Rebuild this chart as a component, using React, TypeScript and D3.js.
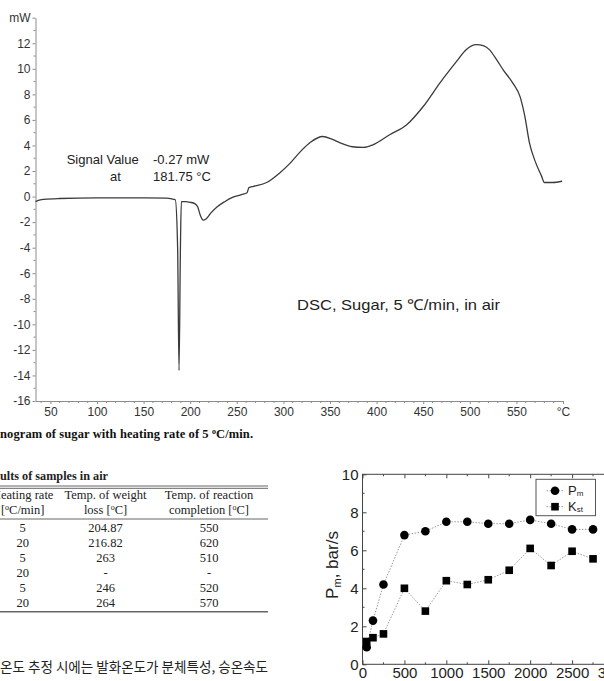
import { useEffect, useRef } from 'react';
import * as d3 from 'd3';

// DSC curve (temperature in °C, signal in mW)
const dscTemp = [34, 37, 43, 60, 100, 150, 175, 180, 184, 186.5, 188, 189.5, 190.5, 195, 200, 205, 208, 211, 214, 217, 222, 229, 237, 246, 255, 261, 263, 268, 282, 296, 307, 318, 329, 342, 352, 361, 374, 386, 396, 414, 432, 450, 468, 486, 496, 507, 515, 521, 528, 536, 546, 554, 559, 564, 571, 577, 580, 589, 599];
const dscSignal = [-0.4, -0.3, -0.22, -0.15, -0.1, -0.1, -0.12, -0.18, -0.25, -4, -13.6, -4, -0.4, -0.4, -0.45, -0.55, -0.8, -1.5, -1.85, -1.75, -1.3, -0.8, -0.4, -0.05, 0.15, 0.3, 0.7, 0.8, 1.1, 1.85, 2.6, 3.5, 4.25, 4.7, 4.5, 4.2, 3.9, 3.85, 4.05, 4.84, 5.6, 7.05, 8.9, 10.6, 11.5, 11.9, 11.8, 11.5, 10.8, 9.9, 8.9, 7.8, 6.3, 4.2, 2.6, 1.6, 1.1, 1.1, 1.2];
const dscYTicks = [-16, -14, -12, -10, -8, -6, -4, -2, 0, 2, 4, 6, 8, 10, 12];
const dscXTicks = [50, 100, 150, 200, 250, 300, 350, 400, 450, 500, 550];

// table rows
const heatingRates = ['5', '20', '5', '20', '5', '20'];
const weightLossTemps = ['204.87', '216.82', '263', '-', '246', '264'];
const completionTemps = ['550', '620', '510', '-', '520', '570'];

// Pm / Kst chart
const speeds = [50, 125, 250, 500, 750, 1000, 1250, 1500, 1750, 2000, 2250, 2500, 2750];
const pmValues = [0.9, 2.3, 4.2, 6.8, 7.0, 7.5, 7.5, 7.4, 7.4, 7.6, 7.4, 7.1, 7.1];
const kstValues = [1.2, 1.4, 1.6, 4.0, 2.8, 4.4, 4.2, 4.45, 4.95, 6.1, 5.2, 5.95, 5.55];
const scatterXTicks = [0, 500, 1000, 1500, 2000, 2500, 3000];
const scatterYTicks = [0, 2, 4, 6, 8, 10];

const sans = 'Liberation Sans, Arial, sans-serif';
const serif = 'Liberation Serif, Times New Roman, serif';

export default function App() {
  const svgRef = useRef<SVGSVGElement>(null);

  useEffect(() => {
    if (!svgRef.current) return;
    const svg = d3.select(svgRef.current);
    svg.selectAll('*').remove();

    // ---------- DSC chart ----------
    const x = d3.scaleLinear().domain([34, 600]).range([35.5, 563]);
    const y = d3.scaleLinear().domain([-16, 14]).range([401, 17.7]);
    const dsc = svg.append('g');

    const yAxis = dsc.append('g')
      .attr('transform', `translate(${x(34)},0)`)
      .call(d3.axisLeft(y)
        .tickValues([...dscYTicks, 14])
        .tickFormat(d => (+d === 14 ? 'mW' : String(d)))
        .tickSize(3)
        .tickSizeOuter(0)
        .tickPadding(2));

    dsc.append('g')
      .selectAll('line')
      .data(d3.range(-15, 14, 2))
      .join('line')
      .attr('x1', x(34) - 2)
      .attr('x2', x(34))
      .attr('y1', d => y(d))
      .attr('y2', d => y(d));

    const xAxis = dsc.append('g')
      .attr('transform', `translate(0,${y(-16)})`)
      .call(d3.axisBottom(x)
        .tickValues([...dscXTicks, 600])
        .tickFormat(d => (+d === 600 ? '°C' : String(d)))
        .tickSize(3)
        .tickSizeOuter(0)
        .tickPadding(3));

    dsc.append('g')
      .selectAll('line')
      .data(d3.range(40, 600, 10).filter(d => d % 50 !== 0))
      .join('line')
      .attr('x1', d => x(d))
      .attr('x2', d => x(d))
      .attr('y1', y(-16))
      .attr('y2', y(-16) + 2);

    dsc.selectAll('line').attr('stroke', '#8c8c8c');
    [yAxis, xAxis].forEach(a => {
      a.select('.domain').attr('stroke', '#8c8c8c');
      a.selectAll('text').attr('font-family', sans).attr('font-size', 12).attr('fill', '#333');
    });

    const dscLine = d3.line<number>()
      .x((_, i) => x(dscTemp[i]))
      .y(d => y(d))
      .curve(d3.curveMonotoneX);

    dsc.append('path')
      .datum(dscSignal)
      .attr('fill', 'none')
      .attr('stroke', '#3a3a3a')
      .attr('stroke-width', 1.3)
      .attr('d', dscLine);

    const note = dsc.append('g').attr('font-family', sans).attr('font-size', 13).attr('fill', '#222');
    note.append('text').attr('x', 66.7).attr('y', 164).text('Signal Value');
    note.append('text').attr('x', 153).attr('y', 164).text('-0.27 mW');
    note.append('text').attr('x', 110).attr('y', 180.5).text('at');
    note.append('text').attr('x', 153).attr('y', 180.5).text('181.75 °C');

    dsc.append('text')
      .attr('x', 297).attr('y', 310)
      .attr('font-family', sans).attr('font-size', 15).attr('fill', '#222')
      .attr('textLength', 203).attr('lengthAdjust', 'spacingAndGlyphs')
      .text('DSC, Sugar, 5 ℃/min, in air');

    // ---------- caption ----------
    const cap = svg.append('text')
      .attr('x', 0).attr('y', 437.5)
      .attr('font-family', serif).attr('font-size', 12.5).attr('font-weight', 'bold').attr('fill', '#111')
      .attr('textLength', 253).attr('lengthAdjust', 'spacing');
    cap.append('tspan').text('nogram of sugar with heating rate of 5 ');
    cap.append('tspan').attr('dy', -4).attr('font-size', 8).text('o');
    cap.append('tspan').attr('dy', 4).text('C/min.');

    // ---------- table ----------
    const tbl = svg.append('g').attr('font-family', serif).attr('font-size', 12.5).attr('fill', '#222');
    tbl.append('text').attr('x', 0).attr('y', 479.5).attr('font-weight', 'bold')
      .attr('textLength', 108).attr('lengthAdjust', 'spacingAndGlyphs')
      .text('ults of samples in air');

    const rule = (yy: number, w: number) => tbl.append('line')
      .attr('x1', 0).attr('x2', 268).attr('y1', yy).attr('y2', yy)
      .attr('stroke', '#666').attr('stroke-width', w);
    rule(486, 1); rule(488.3, 1); rule(519, 1); rule(611.8, 1.4);

    const colX = [22.7, 105.5, 209];
    const head = (cx: number, yy: number, before: string, after?: string) => {
      const t = tbl.append('text').attr('x', cx).attr('y', yy).attr('text-anchor', 'middle');
      t.append('tspan').text(before);
      if (after !== undefined) {
        t.append('tspan').attr('dy', -4).attr('font-size', 8).text('o');
        t.append('tspan').attr('dy', 4).text(after);
      }
    };
    head(colX[0], 498.5, 'Heating rate');
    head(colX[1], 498.5, 'Temp. of weight');
    head(colX[2], 498.5, 'Temp. of reaction');
    head(colX[0], 514, '[', 'C/min]');
    head(colX[1], 514, 'loss [', 'C]');
    head(colX[2], 514, 'completion [', 'C]');

    const rowY = (i: number) => 531.5 + i * 15;
    [heatingRates, weightLossTemps, completionTemps].forEach((col, c) => {
      tbl.selectAll(null)
        .data(col)
        .join('text')
        .attr('x', colX[c])
        .attr('y', (_, i) => rowY(i))
        .attr('text-anchor', 'middle')
        .text(d => d);
    });

    // ---------- Korean body text ----------
    svg.append('text')
      .attr('x', 0).attr('y', 672)
      .attr('font-family', 'Noto Sans CJK KR, sans-serif').attr('font-size', 14).attr('fill', '#222')
      .attr('textLength', 268).attr('lengthAdjust', 'spacingAndGlyphs')
      .text('온도 추정 시에는 발화온도가 분체특성, 승온속도');

    // ---------- Pm / Kst chart ----------
    const xs = d3.scaleLinear().domain([0, 3000]).range([362.5, 614]);
    const ys = d3.scaleLinear().domain([0, 10]).range([664.3, 474.3]);
    const sc = svg.append('g');

    sc.append('rect')
      .attr('x', xs(0)).attr('y', ys(10))
      .attr('width', xs(3000) - xs(0)).attr('height', ys(0) - ys(10))
      .attr('fill', 'none').attr('stroke', '#444').attr('stroke-width', 1);

    const bAxis = sc.append('g').attr('transform', `translate(0,${ys(0)})`)
      .call(d3.axisBottom(xs).tickValues(scatterXTicks).tickFormat(d => String(d)).tickSize(-4).tickSizeOuter(0).tickPadding(3));
    const lAxis = sc.append('g').attr('transform', `translate(${xs(0)},0)`)
      .call(d3.axisLeft(ys).tickValues(scatterYTicks).tickFormat(d => String(d)).tickSize(-4).tickSizeOuter(0).tickPadding(4));
    sc.append('g').attr('transform', `translate(0,${ys(10)})`)
      .call(d3.axisTop(xs).tickValues(scatterXTicks).tickFormat(() => '').tickSize(-4).tickSizeOuter(0));
    sc.append('g').attr('transform', `translate(${xs(3000)},0)`)
      .call(d3.axisRight(ys).tickValues(scatterYTicks).tickFormat(() => '').tickSize(-4).tickSizeOuter(0));

    const minorX = d3.range(250, 3000, 500);
    const minorY = d3.range(1, 10, 2);
    [ys(0), ys(10)].forEach((yy, k) => {
      sc.append('g').selectAll('line').data(minorX).join('line')
        .attr('x1', d => xs(d)).attr('x2', d => xs(d))
        .attr('y1', yy).attr('y2', yy + (k === 0 ? -2 : 2));
    });
    [xs(0), xs(3000)].forEach((xx, k) => {
      sc.append('g').selectAll('line').data(minorY).join('line')
        .attr('y1', d => ys(d)).attr('y2', d => ys(d))
        .attr('x1', xx).attr('x2', xx + (k === 0 ? 2 : -2));
    });
    sc.selectAll('.domain').attr('stroke', 'none');
    sc.selectAll('line').attr('stroke', '#444');
    [bAxis, lAxis].forEach(a => a.selectAll('text').attr('font-family', sans).attr('font-size', 15).attr('fill', '#222'));

    const link = (vals: number[]) => d3.line<number>().x((_, i) => xs(speeds[i])).y(d => ys(d))(vals);
    [pmValues, kstValues].forEach(vals => {
      sc.append('path')
        .attr('d', link(vals))
        .attr('fill', 'none').attr('stroke', '#9a9a9a').attr('stroke-width', 1)
        .attr('stroke-dasharray', '1.5,1.5');
    });

    sc.append('g').selectAll('rect').data(kstValues).join('rect')
      .attr('x', (_, i) => xs(speeds[i]) - 3.8).attr('y', d => ys(d) - 3.8)
      .attr('width', 7.6).attr('height', 7.6).attr('fill', '#000');
    sc.append('g').selectAll('circle').data(pmValues).join('circle')
      .attr('cx', (_, i) => xs(speeds[i])).attr('cy', d => ys(d))
      .attr('r', 4.3).attr('fill', '#000');

    // legend
    const lg = sc.append('g');
    lg.append('rect').attr('x', 536).attr('y', 479.3).attr('width', 59.5).attr('height', 36.4)
      .attr('fill', '#fff').attr('stroke', '#555').attr('stroke-width', 1);
    [490.7, 506.7].forEach(yy => {
      lg.append('line').attr('x1', 546.5).attr('x2', 563.5).attr('y1', yy).attr('y2', yy)
        .attr('stroke', '#9a9a9a').attr('stroke-dasharray', '1.5,1.5');
    });
    lg.append('circle').attr('cx', 555).attr('cy', 490.7).attr('r', 4.3).attr('fill', '#000');
    lg.append('rect').attr('x', 551.2).attr('y', 502.9).attr('width', 7.6).attr('height', 7.6).attr('fill', '#000');
    const lt1 = lg.append('text').attr('x', 568).attr('y', 495).attr('font-family', sans).attr('font-size', 13).attr('fill', '#222');
    lt1.append('tspan').text('P');
    lt1.append('tspan').attr('font-size', 8).attr('dy', 1).text('m');
    const lt2 = lg.append('text').attr('x', 568).attr('y', 511).attr('font-family', sans).attr('font-size', 13).attr('fill', '#222');
    lt2.append('tspan').text('K');
    lt2.append('tspan').attr('font-size', 8).attr('dy', 1).text('st');

    // y title
    const yt = sc.append('text')
      .attr('transform', `translate(338,565) rotate(-90)`)
      .attr('text-anchor', 'middle')
      .attr('font-family', sans).attr('font-size', 17).attr('fill', '#222');
    yt.append('tspan').text('P');
    yt.append('tspan').attr('font-size', 11).attr('dy', 3).text('m');
    yt.append('tspan').attr('dy', -3).text(',  bar/s');
  }, []);

  return (
    <svg
      ref={svgRef}
      width={604}
      height={681}
      style={{ position: 'absolute', left: 0, top: 0, background: '#fff' }}
    />
  );
}
